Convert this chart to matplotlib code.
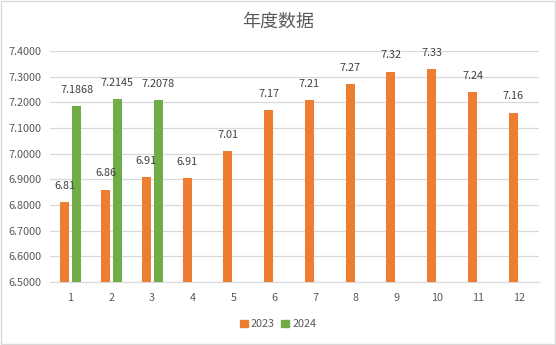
import matplotlib
matplotlib.use("Agg")
import matplotlib.pyplot as plt
from matplotlib.patches import Patch

plt.rcParams['font.family'] = ['Noto Sans CJK SC', 'DejaVu Sans']

months = [1, 2, 3, 4, 5, 6, 7, 8, 9, 10, 11, 12]
values_2023 = [6.8100, 6.8600, 6.9100, 6.9060, 7.0100, 7.1700, 7.2100, 7.2700, 7.3200, 7.3300, 7.2400, 7.1600]
values_2024 = [7.1868, 7.2145, 7.2078]
yticks = [6.5, 6.6, 6.7, 6.8, 6.9, 7.0, 7.1, 7.2, 7.3, 7.4]
title = "年度数据"

c23 = "#ED7D31"
c24 = "#70AD47"
gray = "#595959"

fig = plt.figure(figsize=(5.56, 3.45), dpi=100)
fig.patch.set_facecolor("white")
ax = fig.add_axes([0.090, 0.183, 0.880, 0.669])

w = 0.22
x23 = [m - 0.14 for m in months]
x24 = [m + 0.15 for m in months[:len(values_2024)]]
ax.bar(x23, values_2023, width=w, color=c23, zorder=3)
ax.bar(x24, values_2024, width=w, color=c24, zorder=3)

for x, v in zip(x23, values_2023):
    ax.annotate(f"{v:.2f}", (x, v), xytext=(0, 8), textcoords="offset points",
                ha="center", va="bottom", fontsize=7.8, color="#404040")
for x, v in zip(x24, values_2024):
    ax.annotate(f"{v:.4f}", (x, v), xytext=(0, 8), textcoords="offset points",
                ha="center", va="bottom", fontsize=7.8, color="#404040")

ax.set_ylim(6.5, 7.4)
ax.set_xlim(0.5, 12.5)
ax.set_yticks(yticks)
ax.set_yticklabels([f"{t:.4f}" for t in yticks])
ax.set_xticks(months)
ax.set_xticklabels([str(m) for m in months])
ax.tick_params(axis="both", length=0, labelsize=7.8, colors=gray)
ax.tick_params(axis="y", pad=6.5)
ax.tick_params(axis="x", pad=8)
ax.grid(axis="y", color="#D9D9D9", linewidth=0.9, zorder=0)
for s in ["left", "right", "top"]:
    ax.spines[s].set_visible(False)
ax.spines["bottom"].set_color("#D9D9D9")

fig.text(0.5, 0.937, title, ha="center", va="center", fontsize=13, color=gray)

handles = [Patch(color=c23, label="2023"), Patch(color=c24, label="2024")]
fig.legend(handles=handles, loc="center", bbox_to_anchor=(0.5, 0.06), ncol=2,
           frameon=False, fontsize=7.8, handlelength=0.7, handleheight=0.7,
           handletextpad=0.3, columnspacing=0.6, labelcolor=gray)

border = plt.Rectangle((0.002, 0.003), 0.996, 0.994, transform=fig.transFigure,
                       fill=False, edgecolor="#D9D9D9", linewidth=1)
fig.patches.append(border)

fig.savefig("out.png", dpi=100)
